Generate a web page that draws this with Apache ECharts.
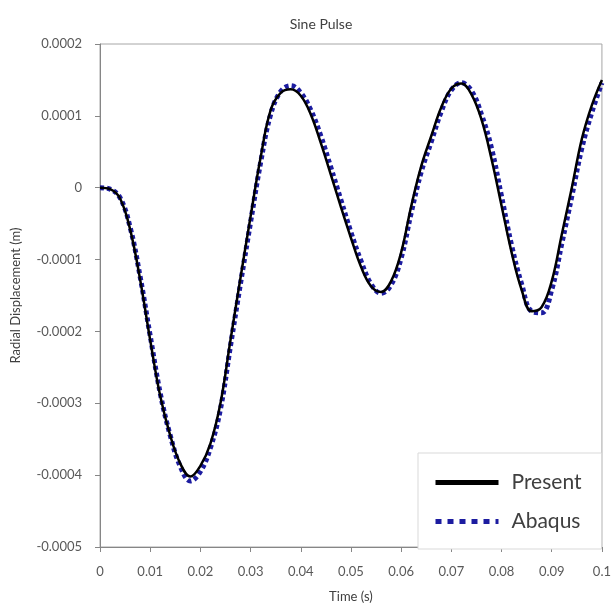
<!DOCTYPE html>
<html>
<head>
<meta charset="utf-8">
<script src="https://cdn.jsdelivr.net/npm/echarts@6/dist/echarts.min.js"></script>
<style>
html,body{margin:0;padding:0;background:#fff;}
#chart{width:614px;height:608px;}
</style>
</head>
<body>
<div id="chart"></div>
<script>
// Time (s)
const timeValues = [0,0.002,0.004,0.006,0.008,0.010,0.012,0.014,0.016,0.018,
  0.020,0.022,0.024,0.026,0.028,0.030,0.032,0.034,0.036,0.038,
  0.040,0.042,0.044,0.046,0.048,0.050,0.052,0.054,0.056,0.058,
  0.060,0.062,0.064,0.066,0.068,0.070,0.072,0.074,0.076,0.078,
  0.080,0.082,0.084,0.086,0.088,0.090,0.092,0.094,0.096,0.098,0.100];
// Radial displacement, in units of 1e-4 m
const presentValues = [0,-0.02,-0.15,-0.58,-1.28,-2.12,-2.90,-3.45,-3.84,-4.02,
  -3.87,-3.56,-3.00,-2.12,-1.25,-0.40,0.42,1.08,1.32,1.37,
  1.28,1.02,0.62,0.18,-0.27,-0.70,-1.10,-1.37,-1.45,-1.30,
  -0.90,-0.26,0.30,0.72,1.12,1.38,1.45,1.30,0.95,0.40,
  -0.25,-0.90,-1.42,-1.72,-1.66,-1.30,-0.65,0.00,0.68,1.15,1.50];
const abaqusValues = [0,-0.02,-0.14,-0.55,-1.24,-2.06,-2.86,-3.45,-3.88,-4.08,
  -3.95,-3.62,-3.08,-2.20,-1.33,-0.48,0.35,1.02,1.34,1.42,
  1.32,1.08,0.72,0.28,-0.17,-0.62,-1.02,-1.34,-1.47,-1.35,
  -0.98,-0.35,0.22,0.64,1.06,1.36,1.46,1.35,1.02,0.55,
  -0.12,-0.80,-1.34,-1.72,-1.74,-1.42,-0.78,-0.12,0.55,1.05,1.46];
const seriesNames = ['Present','Abaqus'];
const xTickLabels = ['0','0.01','0.02','0.03','0.04','0.05','0.06','0.07','0.08','0.09','0.1'];
const yTickLabels = ['-0.0005','-0.0004','-0.0003','-0.0002','-0.0001','0','0.0001','0.0002'];

const FONT = 'Lato, "Open Sans", sans-serif';
const chart = echarts.init(document.getElementById('chart'));
const toPairs = vals => vals.map((v, i) => [timeValues[i], v]);

chart.setOption({
  animation: false,
  backgroundColor: '#fff',
  title: {
    text: 'Sine Pulse',
    left: 316, top: 12, textAlign: 'center',
    textStyle: {fontSize: 14, fontWeight: 'normal', color: '#404040', fontFamily: FONT}
  },
  grid: {left: 100, right: 10, top: 44, bottom: 60, show: true, borderColor: '#a6a6a6', borderWidth: 1},
  legend: {
    orient: 'vertical', left: 418, top: 453,
    padding: [19, 20, 17, 15], itemGap: 18, itemWidth: 63, itemHeight: 14,
    borderColor: '#d9d9d9', borderWidth: 1, backgroundColor: '#fff',
    textStyle: {fontSize: 21, lineHeight: 14, color: '#404040', fontFamily: FONT, padding: [0, 0, 0, 8]},
    data: [
      {name: seriesNames[0], itemStyle: {opacity: 0}, lineStyle: {width: 5, color: '#000'}},
      {name: seriesNames[1], itemStyle: {opacity: 0}, lineStyle: {width: 5, type: [6, 6], color: '#1c1ca0'}}
    ]
  },
  xAxis: {
    type: 'value', min: 0, max: 0.1, interval: 0.01,
    name: 'Time (s)', nameLocation: 'middle', nameGap: 43,
    nameTextStyle: {fontSize: 13, color: '#404040', fontFamily: FONT},
    axisLine: {onZero: false, lineStyle: {color: '#868686'}},
    axisTick: {show: true, length: 5, lineStyle: {color: '#868686'}},
    axisLabel: {margin: 18, fontSize: 13, color: '#595959', fontFamily: FONT,
      formatter: (v) => xTickLabels[Math.round(v / 0.01)]},
    splitLine: {show: false}
  },
  yAxis: {
    type: 'value', min: -5, max: 2, interval: 1,
    name: 'Radial Displacement (m)', nameLocation: 'middle', nameGap: 78,
    nameTextStyle: {fontSize: 13, color: '#404040', fontFamily: FONT},
    axisLine: {show: true, onZero: false, lineStyle: {color: '#868686'}},
    axisTick: {show: true, length: 5, lineStyle: {color: '#868686'}},
    axisLabel: {margin: 18, fontSize: 13, color: '#595959', fontFamily: FONT,
      formatter: (v) => yTickLabels[Math.round(v) + 5]},
    splitLine: {show: false}
  },
  series: [
    {
      name: seriesNames[1], type: 'line', data: toPairs(abaqusValues),
      smooth: 0.4, symbol: 'none', z: 2,
      lineStyle: {width: 5, type: [4, 3], color: '#1c1ca0', cap: 'butt'}
    },
    {
      name: seriesNames[0], type: 'line', data: toPairs(presentValues),
      smooth: 0.4, symbol: 'none', z: 3,
      lineStyle: {width: 2.5, color: '#000'}
    }
  ]
});
</script>
</body>
</html>
